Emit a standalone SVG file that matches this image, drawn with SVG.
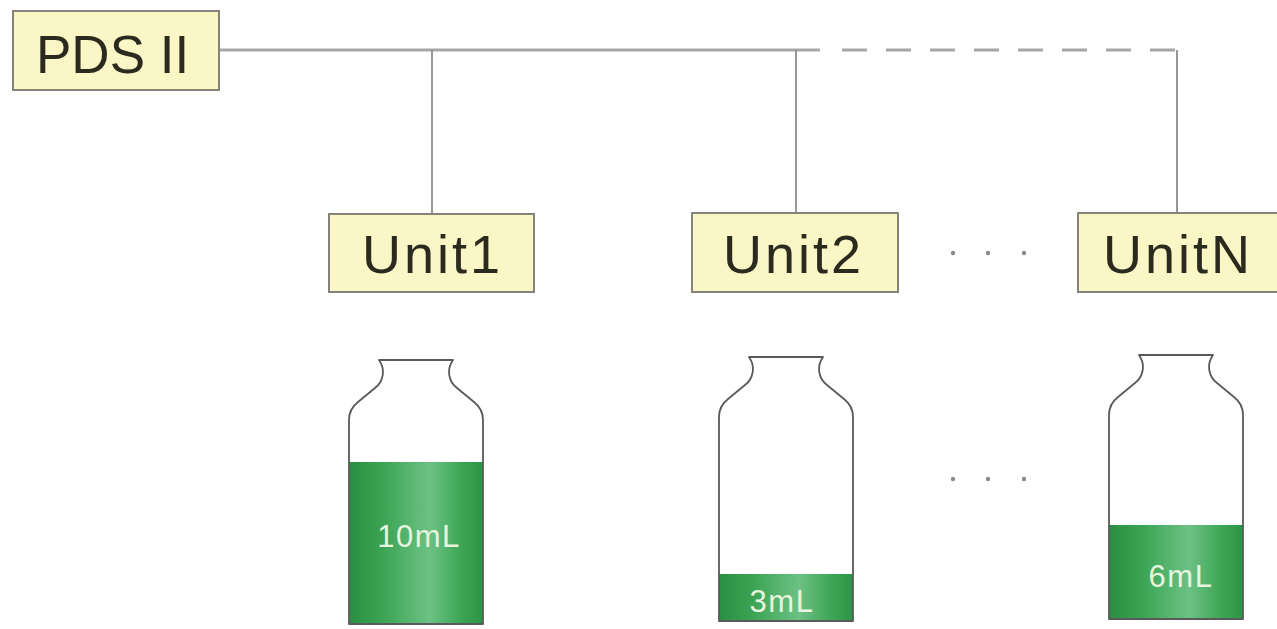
<svg xmlns="http://www.w3.org/2000/svg" xmlns:xlink="http://www.w3.org/1999/xlink" width="1277" height="629" viewBox="0 0 1277 629">
<style>
.box{fill:#faf6c6;stroke:#85847a;stroke-width:2}
.lbl{font-family:"Liberation Sans",Arial,sans-serif;fill:#2b2a1e}
.unit{font-size:54px;letter-spacing:3px}
.bus{stroke:#a6a6a6;stroke-width:3;fill:none}
.drop{stroke:#8c8c8c;stroke-width:1.8;fill:none}
.bottle{fill:none;stroke:#5a5a5a;stroke-width:1.8;stroke-linejoin:round}
.vol{font-family:"Liberation Sans",Arial,sans-serif;font-size:31px;letter-spacing:1.5px;fill:#e6f5de;text-anchor:middle}
.dot{fill:#8a8a8a}
</style>
<defs>
<linearGradient id="liq" x1="0" y1="0" x2="1" y2="0">
<stop offset="0" stop-color="#2a8e42"/>
<stop offset="0.25" stop-color="#3ba453"/>
<stop offset="0.6" stop-color="#6cc184"/>
<stop offset="0.85" stop-color="#3ba453"/>
<stop offset="1" stop-color="#2d9446"/>
</linearGradient>
<path id="bshape" d="M -37,0 L 37,0 C 30,10 33,22 41,28 L 58,42 Q 67,49 67,60 L 67,264 L -67,264 L -67,60 Q -67,49 -58,42 L -41,28 C -33,22 -30,10 -37,0 Z"/>
</defs>
<rect width="1277" height="629" fill="#ffffff"/>
<g id="connectors">
<line class="bus" x1="219" y1="50" x2="820" y2="50"/>
<line class="bus" x1="842" y1="50" x2="1177" y2="50" stroke-dasharray="25 19"/>
<line class="drop" x1="432" y1="50" x2="432" y2="214"/>
<line class="drop" x1="796" y1="50" x2="796" y2="213"/>
<line class="drop" x1="1177" y1="50" x2="1177" y2="213"/>
</g>
<g id="pds">
<rect class="box" x="13" y="11" width="206" height="79"/>
<text class="lbl" x="36" y="73" font-size="53">PDS II</text>
</g>
<g id="unit1">
<rect class="box" x="329" y="214" width="205" height="78"/>
<text class="lbl unit" x="362" y="273">Unit1</text>
</g>
<g id="unit2">
<rect class="box" x="692" y="213" width="206" height="79"/>
<text class="lbl unit" x="723" y="273">Unit2</text>
</g>
<g id="unitN">
<rect class="box" x="1078" y="213" width="210" height="79"/>
<text class="lbl unit" x="1103" y="273">UnitN</text>
</g>
<g id="ellipsis-units">
<circle class="dot" cx="953" cy="253" r="2.2"/>
<circle class="dot" cx="988" cy="253" r="2.2"/>
<circle class="dot" cx="1024" cy="253" r="2.2"/>
</g>
<g id="bottle1">
<rect x="349" y="462" width="134" height="162" fill="url(#liq)"/>
<use xlink:href="#bshape" href="#bshape" class="bottle" transform="translate(416,360)"/>
<text class="vol" x="419" y="547">10mL</text>
</g>
<g id="bottle2">
<rect x="719" y="574" width="134" height="47" fill="url(#liq)"/>
<use xlink:href="#bshape" href="#bshape" class="bottle" transform="translate(786,357)"/>
<text class="vol" x="782" y="612">3mL</text>
</g>
<g id="ellipsis-bottles">
<circle class="dot" cx="953" cy="479" r="2.2"/>
<circle class="dot" cx="988" cy="479" r="2.2"/>
<circle class="dot" cx="1024" cy="479" r="2.2"/>
</g>
<g id="bottleN">
<rect x="1109" y="525" width="134" height="94" fill="url(#liq)"/>
<use xlink:href="#bshape" href="#bshape" class="bottle" transform="translate(1176,355)"/>
<text class="vol" x="1181" y="587">6mL</text>
</g>
</svg>
